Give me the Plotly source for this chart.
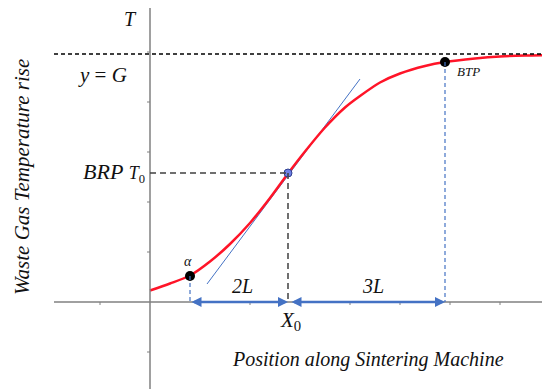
import plotly.graph_objects as go

# ---- data (chart units: 1 unit = one grid step) ----
curve_x = [0.0, 0.4, 0.8, 1.2, 1.6, 2.0, 2.4, 2.76, 3.1, 3.5, 3.9, 4.2, 4.6, 5.0, 5.5, 5.9, 6.5, 7.0, 7.5, 8.0]
curve_y = [0.23, 0.37, 0.53, 0.81, 1.16, 1.58, 2.08, 2.57, 3.01, 3.49, 3.89, 4.12, 4.39, 4.57, 4.72, 4.8, 4.87, 4.91, 4.93, 4.94]
tangent_x = [1.14, 4.2]
tangent_y = [0.36, 4.46]
G = 4.96
X0, T0 = 2.76, 2.58
alpha_x, alpha_y = 0.8, 0.52
btp_x, btp_y = 5.9, 4.8
xticks = [-1, 1, 2, 3, 4, 5, 6, 7, 8]
yticks = [-1, 1, 2, 3, 4, 5]
# page body has an 8px margin: figure is 542x381 and starts at page (8, 8)
xmin, xmax = -2.84, 8.0
ymin, ymax = -1.74, 5.88
xaxis_start = -1.92
yaxis_top = 5.9

FONT = "Liberation Serif"
BLUE = "#4472C4"
GRAY = "#808080"

fig = go.Figure()

shapes = []
# axes
shapes.append(dict(type="line", xref="x", yref="y", x0=xaxis_start, x1=xmax, y0=0, y1=0,
                   line=dict(color=GRAY, width=1.5)))
shapes.append(dict(type="line", xref="x", yref="y", x0=0, x1=0, y0=ymin, y1=yaxis_top,
                   line=dict(color=GRAY, width=1.5)))
for t in xticks:
    shapes.append(dict(type="line", xref="x", yref="y", x0=t, x1=t, y0=0, y1=-0.06,
                       line=dict(color=GRAY, width=1)))
for t in yticks:
    shapes.append(dict(type="line", xref="x", yref="y", x0=-0.06, x1=0, y0=t, y1=t,
                       line=dict(color=GRAY, width=1)))
# y = G asymptote
shapes.append(dict(type="line", xref="x", yref="y", x0=xaxis_start, x1=xmax, y0=G, y1=G,
                   line=dict(color="#000000", width=1.5, dash="4px,3px")))
# BRP guides
shapes.append(dict(type="line", xref="x", yref="y", x0=0, x1=X0, y0=T0, y1=T0,
                   line=dict(color="#404040", width=1.5, dash="6px,4px")))
shapes.append(dict(type="line", xref="x", yref="y", x0=X0, x1=X0, y0=T0, y1=0,
                   line=dict(color="#404040", width=1.5, dash="6px,4px")))
# blue guides
shapes.append(dict(type="line", xref="x", yref="y", x0=alpha_x, x1=alpha_x, y0=alpha_y, y1=0,
                   line=dict(color=BLUE, width=1.2, dash="4px,3px")))
shapes.append(dict(type="line", xref="x", yref="y", x0=btp_x, x1=btp_x, y0=btp_y, y1=0,
                   line=dict(color=BLUE, width=1.2, dash="4px,3px")))

# tangent
fig.add_trace(go.Scatter(x=tangent_x, y=tangent_y, mode="lines",
                         line=dict(color=BLUE, width=1), hoverinfo="skip"))
# curve
fig.add_trace(go.Scatter(x=curve_x, y=curve_y, mode="lines",
                         line=dict(color="#FF1428", width=2.5, shape="spline", smoothing=0.8),
                         hoverinfo="skip"))
# points
fig.add_trace(go.Scatter(x=[alpha_x, btp_x], y=[alpha_y, btp_y], mode="markers",
                         marker=dict(color="black", size=10), hoverinfo="skip"))
fig.add_trace(go.Scatter(x=[X0], y=[T0], mode="markers",
                         marker=dict(color="#6F80E6", size=8, line=dict(color="#2F3F8F", width=1)),
                         hoverinfo="skip"))

ann = []
def txt(x, y, s, size, xanchor="center", angle=0):
    ann.append(dict(x=x, y=y, xref="x", yref="y", text=s, showarrow=False,
                    xanchor=xanchor, yanchor="middle", textangle=angle,
                    font=dict(family=FONT, size=size)))

txt(-0.4, 5.66, "<i>T</i>", 20)
txt(-0.96, 4.54, "<i>y</i> = <i>G</i>", 21)
txt(-0.06, 2.6, "<i>BRP</i> <span style='font-size:18px'><i>T</i><sub>0</sub></span>", 22, xanchor="right")
txt(0.76, 0.82, "<i>α</i>", 14)
txt(6.1, 4.62, "<i>BTP</i>", 13, xanchor="left")
txt(1.84, 0.32, "<i>2L</i>", 20)
txt(4.46, 0.32, "<i>3L</i>", 20)
txt(2.8, -0.38, "<i>X</i><sub>0</sub>", 21)
txt(7.8, -0.26, "<i>X</i>", 21, xanchor="left")
txt(4.35, -1.14, "<i>Position along Sintering Machine</i>", 20)
txt(-2.56, 2.5, "<i>Waste Gas Temperature rise</i>", 21, angle=-90)

# double arrows
for a, b in [(alpha_x, X0), (X0 + 0.04, btp_x)]:
    ann.append(dict(x=b, y=0, ax=a, ay=0, xref="x", yref="y", axref="x", ayref="y",
                    text="", showarrow=True, arrowhead=2, startarrowhead=2,
                    arrowside="end+start", arrowsize=0.8, startarrowsize=0.8,
                    arrowwidth=2.5, arrowcolor=BLUE, standoff=0, startstandoff=0))

fig.update_layout(
    width=542, height=381,
    margin=dict(l=0, r=0, t=0, b=0),
    paper_bgcolor="white", plot_bgcolor="white",
    font=dict(family=FONT, color="#111111"),
    showlegend=False,
    xaxis=dict(range=[xmin, xmax], visible=False, fixedrange=True),
    yaxis=dict(range=[ymin, ymax], visible=False, fixedrange=True),
    shapes=shapes, annotations=ann,
)

fig.write_html("out.html")
